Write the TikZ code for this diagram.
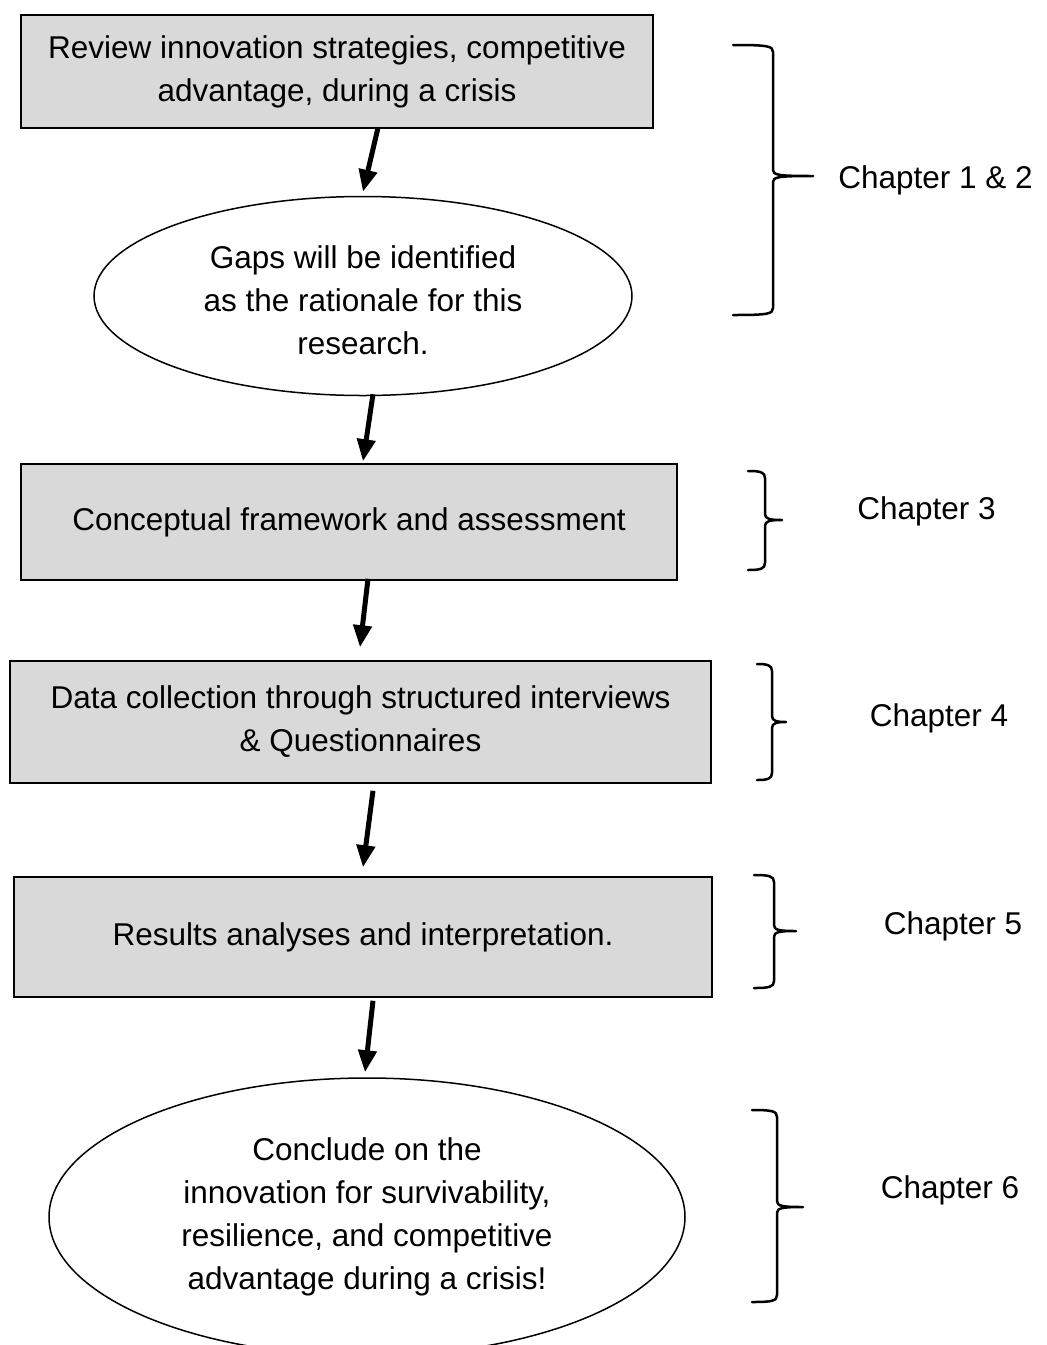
\documentclass[tikz,border=0pt]{standalone}
\usepackage{fontspec}
\setmainfont{Liberation Sans}
\usetikzlibrary{arrows.meta,shapes.geometric}

\definecolor{boxgray}{HTML}{D9D9D9}

\tikzset{
  stagebox/.style={draw=black, line width=1.5pt, fill=boxgray, rectangle,
    inner sep=0pt, align=center},
  stageoval/.style={draw=black, line width=1.5pt, fill=white, ellipse,
    inner sep=0pt, align=center},
  flowarrow/.style={line width=5pt, -{Triangle[length=22pt,width=18pt]}},
  chbrace/.style={line width=2.5pt, line cap=round, line join=round},
  chlabel/.style={inner sep=0pt, anchor=center},
}

% curly brace opening to the right: start x, spine x, tip x, top y, tip y, bottom y
\newcommand{\chapterbrace}[6]{%
  \draw[chbrace] (#1,#4) .. controls (#2-5,#4) and (#2,#4+1) .. (#2,#4+7)
    -- (#2,#5-6) .. controls (#2,#5-1) and (#2+5,#5) .. (#3,#5)
    .. controls (#2+5,#5) and (#2,#5+1) .. (#2,#5+6)
    -- (#2,#6-7) .. controls (#2,#6-1) and (#2-5,#6) .. (#1,#6);}

\begin{document}
\begin{tikzpicture}[x=1pt, y=-1pt,
  every node/.append style={font=\fontsize{31.5pt}{43pt}\selectfont}]
\useasboundingbox (0,0) rectangle (1047,1345);
\clip (0,0) rectangle (1047,1345);

% stages of the study
\node[stagebox, minimum width=632pt, minimum height=113pt] (review) at (337,71.5)
  {Review innovation strategies, competitive\\advantage, during a crisis};
\node[stageoval, minimum width=538pt, minimum height=199pt] (gaps) at (363,296)
  {\raisebox{-7pt}[\height][\depth]{\begin{tabular}{@{}c@{}}Gaps will be identified\\as the rationale for this\\research.\end{tabular}}};
\node[stagebox, minimum width=656pt, minimum height=116pt] (frame) at (349,522)
  {Conceptual framework and assessment};
\node[stagebox, minimum width=701pt, minimum height=122pt] (data) at (360.5,722)
  {Data collection through structured interviews\\\& Questionnaires};
\node[stagebox, minimum width=698pt, minimum height=120pt] (results) at (363,937)
  {Results analyses and interpretation.};
\node[stageoval, minimum width=636pt, minimum height=278pt] (conclude) at (367,1217)
  {Conclude on the\\innovation for survivability,\\resilience, and competitive\\advantage during a crisis!};

% arrows between the stages
\draw[flowarrow] ([xshift=41pt,yshift=1pt]review.south) -- ([yshift=4pt]gaps.north);
\draw[flowarrow] ([xshift=10pt,yshift=2pt]gaps.south) -- ([xshift=14pt,yshift=2pt]frame.north);
\draw[flowarrow] ([xshift=19pt,yshift=2pt]frame.south) -- ([xshift=-0.5pt,yshift=13pt]data.north);
\draw[flowarrow] ([xshift=12.5pt,yshift=-7pt]data.south) -- ([yshift=9pt]results.north);
\draw[flowarrow] ([xshift=10pt,yshift=-3pt]results.south) -- ([xshift=-2pt,yshift=5pt]conclude.north);

% chapter braces and labels
\chapterbrace{733}{773}{813}{45}{176}{315}
\chapterbrace{748}{765}{782}{471}{520}{570}
\chapterbrace{757}{772}{786}{664}{722}{780}
\chapterbrace{754}{774}{796}{875}{931}{988}
\chapterbrace{752}{777}{803}{1110}{1207}{1302}

\node[chlabel] (ch12) at (935.5,180) {Chapter 1 \& 2};
\node[chlabel] (ch3) at (926.5,511) {Chapter 3};
\node[chlabel] (ch4) at (939,718) {Chapter 4};
\node[chlabel] (ch5) at (953,926) {Chapter 5};
\node[chlabel] (ch6) at (950,1190) {Chapter 6};
\end{tikzpicture}
\end{document}
